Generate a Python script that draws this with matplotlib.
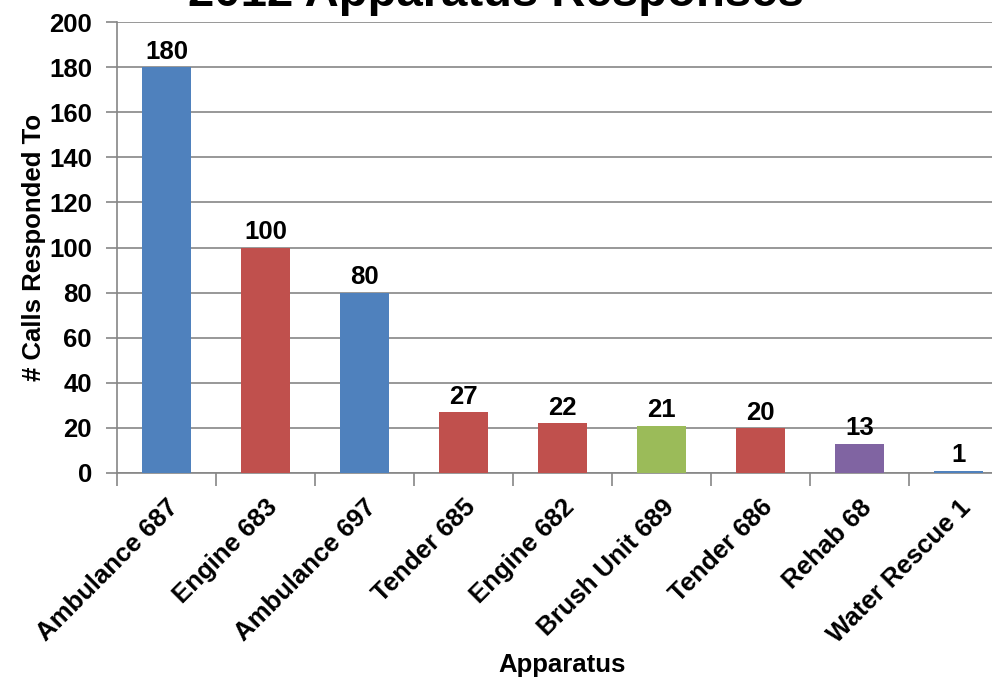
import matplotlib
matplotlib.use("Agg")
import matplotlib.pyplot as plt
import numpy as np
from matplotlib.ticker import FixedLocator

categories = ["Ambulance 687", "Engine 683", "Ambulance 697", "Tender 685", "Engine 682",
              "Brush Unit 689", "Tender 686", "Rehab 68", "Water Rescue 1"]
values = [180, 100, 80, 27, 22, 21, 20, 13, 1]
colors = ["#4F81BD", "#C0504D", "#4F81BD", "#C0504D", "#C0504D",
          "#9BBB59", "#C0504D", "#8064A2", "#4F81BD"]
yticks = [0, 20, 40, 60, 80, 100, 120, 140, 160, 180, 200]

plt.rcParams['font.family'] = ['Liberation Sans', 'DejaVu Sans']
plt.rcParams['font.weight'] = 'bold'

fs = 18.5
fig = plt.figure(figsize=(9.92, 6.79), dpi=100)
ax = fig.add_axes([117/992, 1-473/679, 891/992, (473-22)/679])

x = np.arange(len(categories))
ax.bar(x, values, width=0.49, color=colors, zorder=3)
for xi, v in zip(x, values):
    ax.text(xi, v + 1.5, str(v), ha='center', va='bottom', fontsize=fs, fontweight='bold', zorder=4)

ax.set_xlim(-0.5, len(categories) - 0.5)
ax.set_ylim(0, 200)
ax.set_yticks(yticks)
ax.yaxis.grid(True, color='#868686', linewidth=1.2, zorder=0)
ax.set_xticks(x)
ax.set_xticklabels(categories, rotation=45, ha='right', rotation_mode='anchor', fontsize=fs, fontweight='bold')
ax.xaxis.set_minor_locator(FixedLocator(np.arange(-0.5, len(categories) + 0.5, 1)))
ax.tick_params(axis='x', which='major', length=0, pad=16)
ax.tick_params(axis='x', which='minor', length=9, color='#868686', width=1.2)
ax.tick_params(axis='y', length=8, color='#868686', width=1.2, labelsize=fs, pad=10)
for lab in ax.get_yticklabels():
    lab.set_fontweight('bold')

for s in ['top', 'right']:
    ax.spines[s].set_visible(False)
ax.spines['left'].set_color('#868686')
ax.spines['bottom'].set_color('#868686')
ax.spines['left'].set_linewidth(1.2)
ax.spines['bottom'].set_linewidth(1.2)

ax.set_ylabel("# Calls Responded To", fontsize=fs, fontweight='bold', labelpad=2)
ax.set_xlabel("Apparatus", fontsize=fs, fontweight='bold', labelpad=4)

fig.text(496/992, 1 - 6/679, "2012 Apparatus Responses", ha='center', va='baseline',
         fontsize=34, fontweight='bold')

fig.savefig("out.png", dpi=100)
